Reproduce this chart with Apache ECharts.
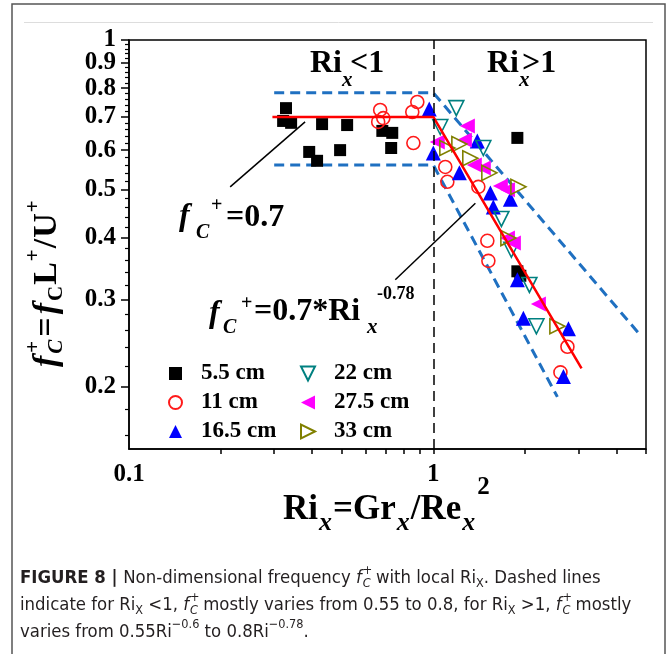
<!DOCTYPE html>
<html><head><meta charset="utf-8">
<script src="https://cdn.jsdelivr.net/npm/echarts@6/dist/echarts.min.js"></script>
<style>html,body{margin:0;padding:0;background:#fff}#c{width:667px;height:654px}</style>
</head><body><div id="c"></div>
<script>
// ---------- data ----------
const xTickLabels = [0.1, 1];
const xTicks = [0.2, 0.3, 0.4, 0.5, 0.6, 0.7, 0.8, 0.9, 1, 2, 3, 4, 5];
const yTickLabels = [0.2, 0.3, 0.4, 0.5, 0.6, 0.7, 0.8, 0.9, 1];
const yMinorTicks = [0.16, 0.18, 0.22, 0.24, 0.26, 0.28, 0.32, 0.34, 0.36, 0.38, 0.42, 0.44, 0.46, 0.48,
  0.52, 0.54, 0.56, 0.58, 0.62, 0.64, 0.66, 0.68, 0.72, 0.74, 0.76, 0.78, 0.82, 0.84, 0.86, 0.88,
  0.92, 0.94, 0.96, 0.98];
const seriesNames = ['5.5 cm', '11 cm', '16.5 cm', '22 cm', '27.5 cm', '33 cm'];

const s55 = [[0.328, 0.729], [0.321, 0.687], [0.341, 0.681], [0.431, 0.677], [0.391, 0.595], [0.415, 0.571],
  [0.521, 0.674], [0.494, 0.600], [0.680, 0.656], [0.733, 0.650], [0.727, 0.606], [1.889, 0.635],
  [1.889, 0.342], [1.932, 0.335]];
const s11 = [[0.669, 0.723], [0.685, 0.696], [0.659, 0.684], [0.886, 0.750], [0.853, 0.716], [0.860, 0.620],
  [1.095, 0.555], [1.112, 0.518], [1.406, 0.506], [1.505, 0.394], [1.517, 0.359], [2.759, 0.241], [2.617, 0.214]];
const s165 = [[0.970, 0.726], [1.0, 0.592], [1.218, 0.540], [1.395, 0.626], [1.540, 0.492], [1.792, 0.478],
  [1.575, 0.461], [1.889, 0.329], [1.977, 0.275], [2.780, 0.262], [2.677, 0.210]];
const s22 = [[1.190, 0.729], [1.054, 0.668], [1.460, 0.606], [1.674, 0.436], [1.805, 0.378], [2.069, 0.321], [2.182, 0.265]];
const s275 = [[1.294, 0.671], [1.031, 0.623], [1.265, 0.629], [1.364, 0.560], [1.460, 0.552], [1.661, 0.508],
  [1.752, 0.499], [1.752, 0.399], [1.833, 0.390], [2.215, 0.294]];
const s33 = [[1.112, 0.606], [1.218, 0.617], [1.323, 0.578], [1.528, 0.540], [1.904, 0.506], [1.765, 0.399], [2.557, 0.265]];

const fitLine = [[0.296, 0.70], [1, 0.70], [3.07, 0.218]];
const upperBound = [[0.3, 0.783], [1, 0.783], [4.8, 0.254]];
const lowerBound = [[0.3, 0.56], [1, 0.56], [2.557, 0.191]];
const dividerX = 1;
const arrow1 = [[0.215, 0.506], [0.379, 0.684]];
const arrow2 = [[0.75, 0.329], [1.375, 0.469]];

// ---------- helpers ----------
const SERIF = '"Liberation Serif","Times New Roman",serif';
const NARROW = '"Liberation Sans Narrow","Arial Narrow","DejaVu Sans Condensed",sans-serif';
const mctx = document.createElement('canvas').getContext('2d');
function fstr(o) { return (o.it ? 'italic ' : '') + (o.bold ? 'bold ' : '') + o.size + 'px ' + o.family; }
function measure(o) { mctx.font = fstr(o); return mctx.measureText(o.t).width; }
function textEl(x, y, o) {
  return { type: 'text', x: x, y: y, silent: true, z: 100,
    style: { text: o.t, fontSize: o.size, fontFamily: o.family, fontWeight: o.bold ? 'bold' : 'normal',
      fontStyle: o.it ? 'italic' : 'normal', fill: o.color || '#000', align: 'left', verticalAlign: 'middle' } };
}
function flow(x, y, segs, base) {
  const out = []; let cx = x;
  for (const s of segs) {
    const o = Object.assign({}, base, s);
    const w = measure(o);
    out.push(textEl(cx + (o.dx || 0), y + (o.dy || 0), o));
    if (!o.stack) cx += w + (o.dx || 0);
  }
  return out;
}
function place(items, base) { return items.map(it => textEl(it.x, it.y, Object.assign({}, base, it))); }

const B = { family: SERIF, bold: true, size: 32, color: '#000' };

// ---------- graphics (texts / frame) ----------
const graphics = [];
graphics.push({ type: 'rect', silent: true, shape: { x: 12, y: 4, width: 653, height: 720 },
  style: { fill: 'none', stroke: '#555', lineWidth: 1.5 } });
graphics.push({ type: 'line', silent: true, shape: { x1: 24, y1: 22.5, x2: 653, y2: 22.5 },
  style: { stroke: '#ddd', lineWidth: 1 } });

// region labels
graphics.push(...place([
  { t: 'Ri', x: 310, y: 64 }, { t: 'x', x: 342, y: 81, size: 21, it: true }, { t: '<1', x: 350, y: 64 },
  { t: 'Ri', x: 487, y: 64 }, { t: 'x', x: 519, y: 81, size: 21, it: true }, { t: '>1', x: 522, y: 64 }
], B));
// f_C+ = 0.7
graphics.push(...place([
  { t: 'f', x: 179, y: 217, size: 32, it: true }, { t: 'C', x: 196, y: 233, size: 20, it: true },
  { t: '+', x: 211, y: 206, size: 20 }, { t: '=0.7', x: 226, y: 218, size: 32 }
], B));
// f_C+ = 0.7*Ri_x^-0.78
graphics.push(...place([
  { t: 'f', x: 209, y: 314, size: 32, it: true }, { t: 'C', x: 223, y: 328, size: 20, it: true },
  { t: '+', x: 241, y: 304, size: 20 }, { t: '=0.7*Ri', x: 254, y: 312, size: 32 },
  { t: 'x', x: 367, y: 328, size: 21, it: true }, { t: '-0.78', x: 377, y: 294, size: 18 }
], B));

// x axis name
graphics.push(...flow(283, 510, [
  { t: 'Ri' }, { t: 'x', it: true, size: 26, dy: 13, dx: 1 }, { t: '=Gr', dx: 1 },
  { t: 'x', it: true, size: 26, dy: 13, dx: 1 }, { t: '/Re', dx: 1 }, { t: 'x', it: true, size: 26, dy: 13, dx: 1 },
  { t: '2', size: 25, dy: -22, dx: 2 }
], Object.assign({}, B, { size: 35 })));

// y axis name (rotated)
graphics.push({ type: 'group', x: 47, y: 367, rotation: Math.PI / 2, silent: true,
  children: flow(0, 0, [
    { t: 'f', it: true }, { t: '+', size: 21, dy: -13, stack: true, dx: 3 }, { t: 'C', it: true, size: 21, dy: 10, dx: 2 },
    { t: '=', dx: 3 }, { t: 'f', it: true, dx: 3 }, { t: 'C', size: 21, dy: 10, dx: 2 }, { t: 'L', dx: 1 },
    { t: '+', size: 21, dy: -13, dx: 1 }, { t: '/', dx: 1 }, { t: 'U', dx: 1 }, { t: '+', size: 21, dy: -13, dx: 1 }
  ], Object.assign({}, B, { size: 34 })) });

// caption
const CAP = { family: NARROW, bold: false, size: 19, color: '#231f20' };
const sub = (t) => ({ t: t, size: 13, dy: 6 });
const sup = (t) => ({ t: t, size: 13, dy: -7 });
const fcp = () => [{ t: 'f', it: true }, { t: '+', size: 13, dy: -7, stack: true, dx: 1 }, { t: 'C', it: true, size: 13, dy: 6, dx: 1 }];
const capLines = [
  [{ t: 'FIGURE 8', bold: true }, { t: ' | ', bold: true }, { t: 'Non-dimensional frequency ' }, ...fcp(),
    { t: ' with local Ri' }, sub('X'), { t: '. Dashed lines' }],
  [{ t: 'indicate for Ri' }, sub('X'), { t: ' <1, ' }, ...fcp(), { t: ' mostly varies from 0.55 to 0.8, for Ri' },
    sub('X'), { t: ' >1, ' }, ...fcp(), { t: ' mostly' }],
  [{ t: 'varies from 0.55Ri' }, sup('\u22120.6'), { t: ' to 0.8Ri' }, sup('\u22120.78'), { t: '.' }]
];
let w2 = 0; for (const s of capLines[1]) { const o = Object.assign({}, CAP, s); if (!o.stack) w2 += measure(o) + (o.dx || 0); }
const k = 612 / w2;
const scaleSegs = segs => segs.map(s => Object.assign({}, s, { size: (s.size || CAP.size) * k }));
graphics.push(...flow(20, 578, scaleSegs(capLines[0]), CAP));
graphics.push(...flow(20, 605, scaleSegs(capLines[1]), CAP));
graphics.push(...flow(20, 632, scaleSegs(capLines[2]), CAP));

// ---------- chart ----------
function sc(name, data, symbol, size, color, hollow, rotate) {
  return { type: 'scatter', name: name, data: data, symbol: symbol, symbolSize: size, symbolRotate: rotate || 0,
    z: 3, silent: true,
    itemStyle: hollow ? { color: 'rgba(255,255,255,0)', borderColor: color, borderWidth: 1.6, opacity: 1 }
                      : { color: color, opacity: 1 } };
}
const axisFont = { fontFamily: SERIF, fontWeight: 'bold', fontSize: 25, color: '#000', lineHeight: 16 };
const fmt = v => String(+(+v).toFixed(2));
const blue = '#1f70c1';
const legendText = { fontFamily: SERIF, fontWeight: 'bold', fontSize: 23, color: '#000', lineHeight: 22, padding: [0, 0, 0, 14] };
const ICON_DOWN = 'path://M0,0L10,0L5,10Z';
const ICON_LEFT = 'path://M0,5L10,0L10,10Z';
const ICON_RIGHT = 'path://M10,5L0,0L0,10Z';
const labelOpts = { formatter: fmt, margin: 13, showMinLabel: true, showMaxLabel: true, hideOverlap: false };

const option = {
  animation: false,
  grid: { left: 129, top: 40, right: 21, bottom: 205, show: true, borderColor: '#000', borderWidth: 1.5 },
  xAxis: [
    { type: 'log', logBase: 10, min: 0.1, max: 5, position: 'bottom',
      axisLine: { lineStyle: { color: '#000', width: 1.5 } }, splitLine: { show: false },
      axisTick: { show: true, length: 5, customValues: xTicks, lineStyle: { color: '#000', width: 1.5 } },
      axisLabel: Object.assign({ customValues: xTickLabels }, labelOpts, { margin: 18 }, axisFont) }
  ],
  yAxis: [
    { type: 'log', logBase: 10, min: 0.15, max: 1.00001, position: 'left',
      axisLine: { lineStyle: { color: '#000', width: 1.5 } }, splitLine: { show: false },
      axisTick: { show: true, length: 8, customValues: yTickLabels, lineStyle: { color: '#000', width: 1.5 } },
      axisLabel: Object.assign({ customValues: yTickLabels.slice(0, -1) }, labelOpts, axisFont) },
    { type: 'log', logBase: 10, min: 0.15, max: 1.00001, position: 'left',
      axisLine: { show: false }, splitLine: { show: false },
      axisTick: { show: true, length: 4, customValues: yMinorTicks, lineStyle: { color: '#000', width: 1.2 } },
      axisLabel: Object.assign({ customValues: yTickLabels.slice(-1) }, labelOpts, axisFont) }
  ],
  legend: [
    { data: seriesNames.slice(0, 3), orient: 'vertical', left: 168, top: 362, itemWidth: 13, itemHeight: 13,
      itemGap: 6, padding: 0, selectedMode: false, textStyle: legendText },
    { data: [
        { name: seriesNames[3], icon: ICON_DOWN },
        { name: seriesNames[4], icon: ICON_LEFT },
        { name: seriesNames[5], icon: ICON_RIGHT }
      ], orient: 'vertical', left: 300, top: 362, itemWidth: 14, itemHeight: 14, symbolRotate: 0,
      itemGap: 6, padding: 0, selectedMode: false, textStyle: legendText }
  ],
  series: [
    { type: 'line', name: 'upper', data: upperBound, symbol: 'none', silent: true, z: 2,
      lineStyle: { color: blue, width: 3, type: [10, 6] } },
    { type: 'line', name: 'lower', data: lowerBound, symbol: 'none', silent: true, z: 2,
      lineStyle: { color: blue, width: 3, type: [10, 6] },
      markLine: { silent: true, animation: false, symbol: 'none', label: { show: false },
        lineStyle: { color: '#000', width: 1.5, type: [10, 6] }, data: [{ xAxis: dividerX }] } },
    sc(seriesNames[0], s55, 'rect', 12, '#000', false),
    sc(seriesNames[1], s11, 'circle', 13, '#ff1a1a', true),
    sc(seriesNames[2], s165, 'triangle', 15, '#0000ff', false),
    sc(seriesNames[3], s22, 'triangle', 15, '#008080', true, 180),
    sc(seriesNames[4], s275, 'triangle', 15, '#ff00ff', false, 90),
    sc(seriesNames[5], s33, 'triangle', 15, '#808000', true, -90),
    { type: 'line', name: 'fit', data: fitLine, symbol: 'none', silent: true, z: 4,
      lineStyle: { color: '#ff0000', width: 2.5 },
      markLine: { silent: true, animation: false, symbol: ['none', 'arrow'], symbolSize: [0, 11], label: { show: false },
        lineStyle: { color: '#000', width: 1.5, type: 'solid' },
        data: [
          [{ coord: arrow1[0] }, { coord: arrow1[1] }],
          [{ coord: arrow2[0] }, { coord: arrow2[1] }]
        ] } }
  ],
  graphic: graphics
};
const chart = echarts.init(document.getElementById('c'), null, { renderer: 'canvas' });
chart.setOption(option);
</script></body></html>
